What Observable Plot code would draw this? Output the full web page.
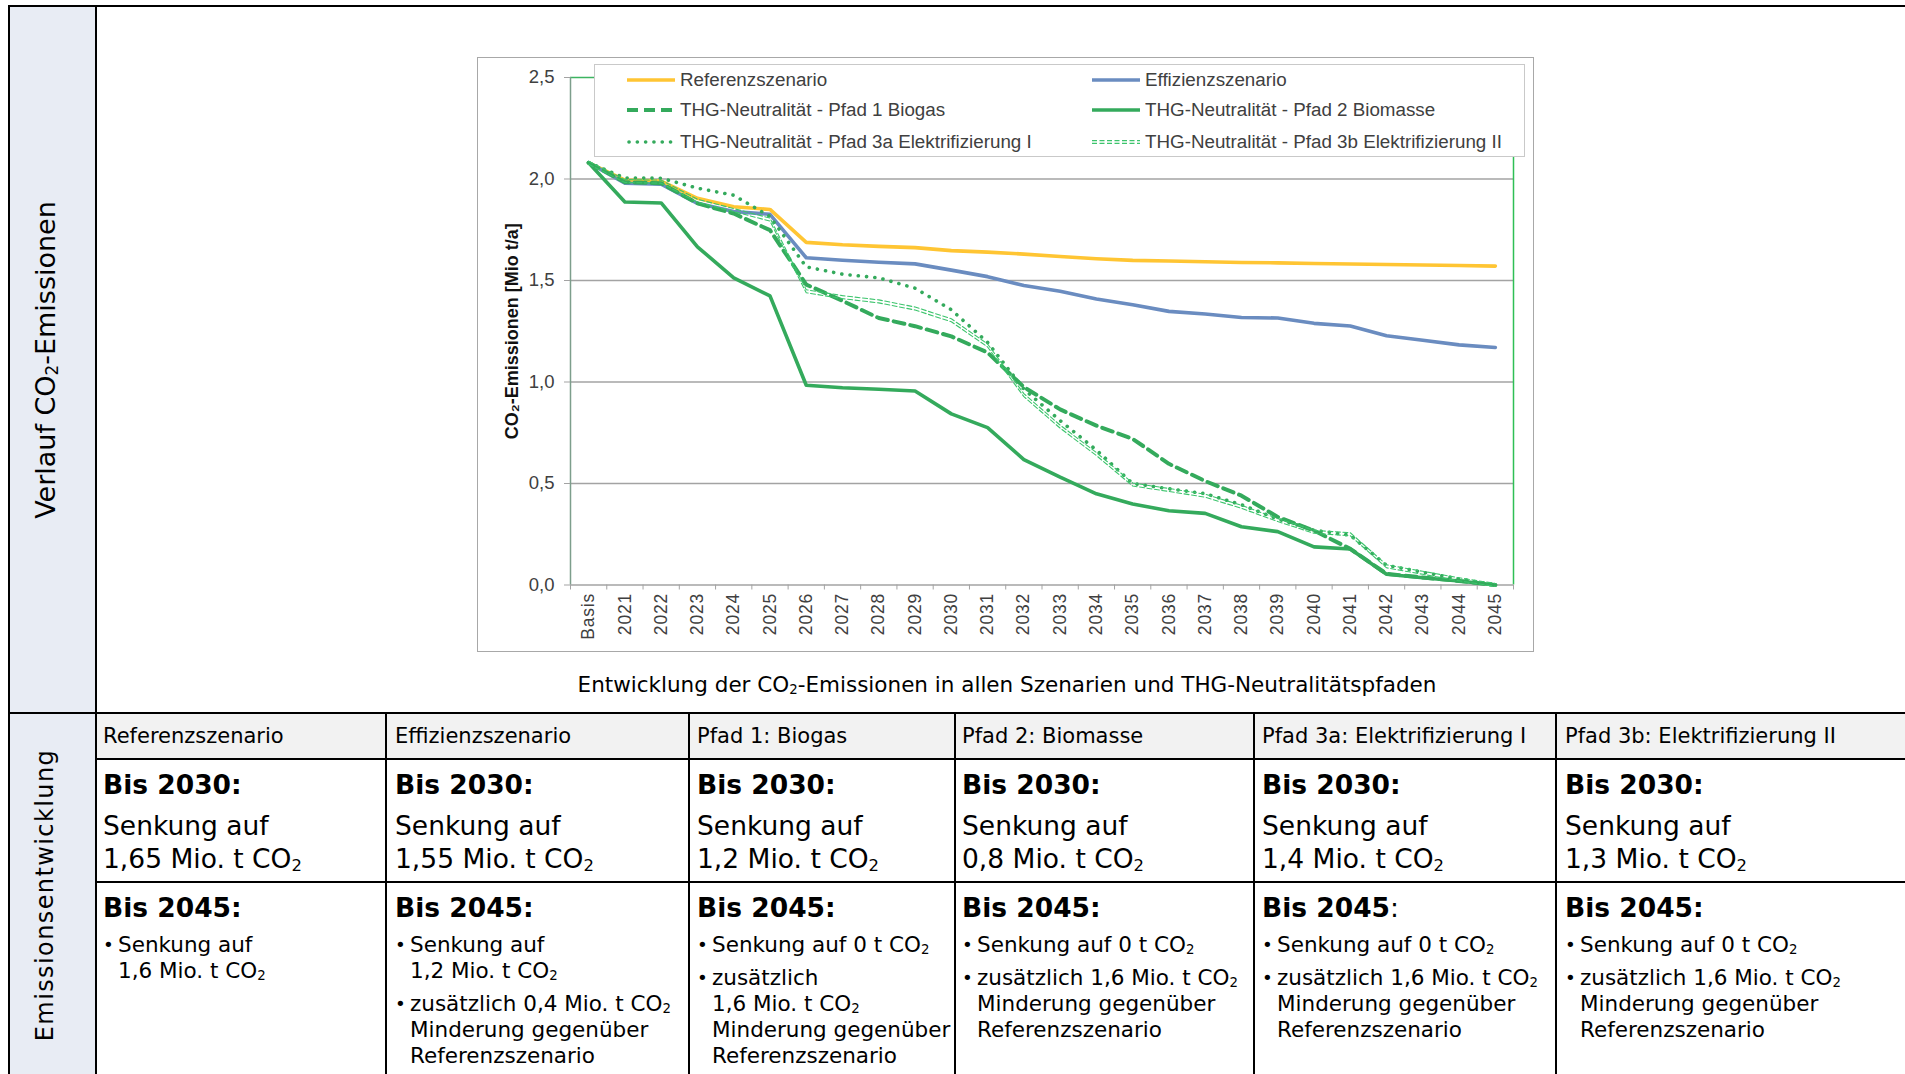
<!DOCTYPE html>
<html><head><meta charset="utf-8">
<script src="https://cdn.jsdelivr.net/npm/d3@7"></script>
<script src="https://cdn.jsdelivr.net/npm/@observablehq/plot@0.6"></script>
<style>
body{margin:0;background:#fff;width:1905px;height:1074px;overflow:hidden;position:relative;font-family:"DejaVu Sans",Verdana,sans-serif;color:#000}
.a{position:absolute;white-space:nowrap}
.bg{position:absolute}
.ln{position:absolute;background:#000}
sub{font-size:0.62em;vertical-align:-0.18em;line-height:0}
.rot{position:absolute;white-space:nowrap;transform:translate(-50%,-50%) rotate(-90deg);font-size:27px}
.hd{font-size:21px;line-height:30px}
.b30{font-size:26.5px;font-weight:bold;line-height:34px}
.big{font-size:26.5px;line-height:34px}
.bul{font-size:21.5px;line-height:26px}
.bul p{margin:0;padding-left:15px;position:relative}
.bul p+p{margin-top:7px}
.bul p::before{content:"•";position:absolute;left:0;font-size:0.85em}
#legend{position:absolute;left:594px;top:64px;width:931px;height:93px;box-sizing:border-box;border:1.5px solid #c9c9c9;background:#fff;font-family:"Liberation Sans",Arial,sans-serif;font-size:18.8px;color:#404040}
#legend .it{position:absolute;display:flex;align-items:center;white-space:nowrap}
#legend svg{margin-right:5px}
</style></head><body>
<script>
// ---------- data ----------
const categories = ["Basis","2021","2022","2023","2024","2025","2026","2027","2028","2029","2030","2031","2032","2033","2034","2035","2036","2037","2038","2039","2040","2041","2042","2043","2044","2045"];
const referenz      = [2.08,1.995,1.99,1.905,1.863,1.85,1.688,1.676,1.668,1.662,1.647,1.64,1.63,1.618,1.607,1.599,1.596,1.592,1.589,1.587,1.584,1.581,1.579,1.576,1.574,1.571];
const effizienz     = [2.08,1.979,1.974,1.88,1.84,1.826,1.612,1.60,1.59,1.582,1.551,1.519,1.475,1.447,1.409,1.381,1.348,1.335,1.318,1.315,1.289,1.276,1.228,1.206,1.183,1.17];
const pfad1Biogas   = [2.08,1.984,1.979,1.88,1.83,1.748,1.48,1.40,1.315,1.275,1.225,1.145,0.975,0.865,0.785,0.72,0.597,0.512,0.44,0.335,0.268,0.178,0.055,0.037,0.02,0.0];
const pfad2Biomasse = [2.08,1.887,1.882,1.666,1.513,1.424,0.984,0.972,0.964,0.956,0.843,0.775,0.618,0.531,0.449,0.399,0.366,0.353,0.287,0.263,0.188,0.177,0.053,0.036,0.02,0.0];
const pfad3a        = [2.08,2.005,2.004,1.955,1.92,1.815,1.567,1.531,1.513,1.462,1.356,1.195,0.965,0.81,0.665,0.5,0.474,0.45,0.395,0.325,0.27,0.245,0.097,0.063,0.03,0.0];
const pfad3b        = [2.08,1.99,1.987,1.893,1.847,1.80,1.447,1.418,1.397,1.362,1.304,1.18,0.935,0.78,0.645,0.495,0.468,0.44,0.385,0.32,0.262,0.25,0.092,0.06,0.028,0.0];
const yTicks = [0,0.5,1.0,1.5,2.0,2.5];
const seriesNames = ["Referenzszenario","Effizienzszenario","THG-Neutralität - Pfad 1 Biogas","THG-Neutralität - Pfad 2 Biomasse","THG-Neutralität - Pfad 3a Elektrifizierung I","THG-Neutralität - Pfad 3b Elektrifizierung II"];
const yLabel = "CO₂-Emissionen [Mio t/a]";
const caption = "Entwicklung der CO<sub>2</sub>-Emissionen in allen Szenarien und THG-Neutralitätspfaden";

const headers = ["Referenzszenario","Effizienzszenario","Pfad 1: Biogas","Pfad 2: Biomasse","Pfad 3a: Elektrifizierung I","Pfad 3b: Elektrifizierung II"];
const target2030 = ["1,65","1,55","1,2","0,8","1,4","1,3"];
const bullets2045 = [
  ["Senkung auf<br>1,6 Mio. t CO<sub>2</sub>"],
  ["Senkung auf<br>1,2 Mio. t CO<sub>2</sub>","zusätzlich 0,4 Mio. t CO<sub>2</sub><br>Minderung gegenüber<br>Referenzszenario"],
  ["Senkung auf 0 t CO<sub>2</sub>","zusätzlich<br>1,6 Mio. t CO<sub>2</sub><br>Minderung gegenüber<br>Referenzszenario"],
  ["Senkung auf 0 t CO<sub>2</sub>","zusätzlich 1,6 Mio. t CO<sub>2</sub><br>Minderung gegenüber<br>Referenzszenario"],
  ["Senkung auf 0 t CO<sub>2</sub>","zusätzlich 1,6 Mio. t CO<sub>2</sub><br>Minderung gegenüber<br>Referenzszenario"],
  ["Senkung auf 0 t CO<sub>2</sub>","zusätzlich 1,6 Mio. t CO<sub>2</sub><br>Minderung gegenüber<br>Referenzszenario"]
];
const bis2045Bold = ["Bis 2045:","Bis 2045:","Bis 2045:","Bis 2045:","Bis 2045</b><span style='font-weight:normal'>:</span><b>","Bis 2045:"];

// ---------- layout: table ----------
const colX = [97,387,690,956,1255,1557];
const textX = [103,395,697,962,1262,1565];
let html = "";
html += `<div class="bg" style="left:10px;top:7px;width:85px;height:1067px;background:#e8ecf4"></div>`;
html += `<div class="bg" style="left:97px;top:714px;width:1808px;height:44px;background:#f2f2f2"></div>`;
html += `<div class="ln" style="left:8px;top:5px;width:1897px;height:2px"></div>`;
html += `<div class="ln" style="left:8px;top:5px;width:2px;height:1069px"></div>`;
html += `<div class="ln" style="left:95px;top:5px;width:2px;height:1069px"></div>`;
html += `<div class="ln" style="left:8px;top:712px;width:1897px;height:2px"></div>`;
html += `<div class="ln" style="left:95px;top:758px;width:1810px;height:2px"></div>`;
html += `<div class="ln" style="left:95px;top:881px;width:1810px;height:2px"></div>`;
colX.slice(1).forEach(x=>{ html += `<div class="ln" style="left:${x-2}px;top:712px;width:1.6px;height:362px"></div>`; });
html += `<div class="rot" style="left:45px;top:360px">Verlauf CO<sub>2</sub>-Emissionen</div>`;
html += `<div class="rot" style="left:45px;top:895px;letter-spacing:1.4px;font-size:24px">Emissionsentwicklung</div>`;
headers.forEach((h,k)=>{
  const x = textX[k];
  html += `<div class="a hd" style="left:${x}px;top:${736-15}px">${h}</div>`;
  html += `<div class="a b30" style="left:${x}px;top:${785-17}px">Bis 2030:</div>`;
  html += `<div class="a big" style="left:${x}px;top:${826-17}px">Senkung auf</div>`;
  html += `<div class="a big" style="left:${x}px;top:${859-17}px">${target2030[k]} Mio. t CO<sub>2</sub></div>`;
  html += `<div class="a b30" style="left:${x}px;top:${908-17}px"><b>${bis2045Bold[k]}</b></div>`;
  html += `<div class="a bul" style="left:${x}px;top:${945-13}px">${bullets2045[k].map(t=>`<p>${t}</p>`).join("")}</div>`;
});
// chart box
html += `<div class="bg" style="left:477px;top:57px;width:1057px;height:595px;box-sizing:border-box;border:1.5px solid #a8a8a8"></div>`;
html += `<div id="chart" class="a" style="left:477px;top:57px"></div>`;
html += `<div class="a" style="left:1007px;top:684px;transform:translate(-50%,-50%);font-size:21.5px">${caption}</div>`;
document.body.insertAdjacentHTML("beforeend", html);

// ---------- chart ----------
const green = "#34aa5c";
const styles = [
  {stroke:"#FFC533", strokeWidth:3.6},
  {stroke:"#6A8CC0", strokeWidth:3.6},
  {stroke:green, strokeWidth:4, strokeDasharray:"11 6"},
  {stroke:green, strokeWidth:3.6},
  {stroke:green, strokeWidth:3.6, strokeDasharray:"0.1 8.2", strokeLinecap:"round"},
  {stroke:"#3cc46c", strokeWidth:1.1, strokeDasharray:"5 2.5", double:true}
];
const allValues = [referenz, effizienz, pfad1Biogas, pfad2Biomasse, pfad3a, pfad3b];
const data = allValues.map(vals => vals.map((v,i)=>({i, v})));
const lineMarks = [];
data.forEach((d,k)=>{
  const s = styles[k];
  const opts = {x:"i", y:"v", stroke:s.stroke, strokeWidth:s.strokeWidth, strokeLinejoin:"round"};
  if (s.strokeDasharray) opts.strokeDasharray = s.strokeDasharray;
  if (s.strokeLinecap) opts.strokeLinecap = s.strokeLinecap;
  if (s.double) {
    lineMarks.push(Plot.line(d, {...opts, dy:-1.5}));
    lineMarks.push(Plot.line(d, {...opts, dy:1.5}));
  } else lineMarks.push(Plot.line(d, opts));
});

const chart = Plot.plot({
  width:1057, height:595,
  marginLeft:93, marginRight:21, marginTop:20, marginBottom:67.5,
  style:{fontFamily:"'Liberation Sans', Arial, sans-serif", fontSize:"18px", color:"#404040", background:"transparent"},
  x:{type:"linear", domain:[-0.5, categories.length-0.5]},
  y:{domain:[0,2.5]},
  marks:[
    Plot.ruleY([0.5,1.0,1.5,2.0], {stroke:"#a3a3a3", strokeWidth:1.5}),
    Plot.ruleY([2.5], {stroke:"#3cb460", strokeWidth:1.5}),
    Plot.ruleX([categories.length-0.5], {stroke:"#2fbf55", strokeWidth:1.5}),
    Plot.ruleY([0], {stroke:"#a3a3a3", strokeWidth:1.5}),
    Plot.ruleX([-0.5], {stroke:"#7d9e8c", strokeWidth:1.5}),
    Plot.axisY({ticks:yTicks, tickSize:6, tickPadding:10, tickFormat:d=>d.toFixed(1).replace(".",","), label:null, stroke:"#a3a3a3", fill:"#404040", fontSize:18.5}),
    Plot.axisX({ticks:d3.range(-0.5, categories.length, 1), tickSize:5, tickFormat:()=>"", label:null, stroke:"#a3a3a3"}),
    Plot.axisX({ticks:d3.range(0, categories.length), tickSize:0, tickPadding:8, tickRotate:-90, tickFormat:i=>categories[i], label:null, fill:"#404040", fontSize:17.5}),
    Plot.text([yLabel], {frameAnchor:"left", rotate:-90, dx:-58, textAnchor:"middle", fontWeight:"bold", fontSize:18, fill:"#111"}),
    ...lineMarks
  ]
});
chart.querySelectorAll("g[aria-label='x-axis tick label'] text").forEach(t=>t.setAttribute("letter-spacing","0.8"));
document.getElementById("chart").appendChild(chart);

// ---------- legend ----------
const legendPos = [[32,15],[497,15],[32,45],[497,45],[32,77],[497,77]];
let lg = `<div id="legend">`;
seriesNames.forEach((n,k)=>{
  const s = styles[k];
  const [lx,ly] = legendPos[k];
  let sw;
  if (s.double) {
    sw = `<line x1="0" y1="3.6" x2="48" y2="3.6" stroke="${s.stroke}" stroke-width="1.3" stroke-dasharray="5 2.5"/><line x1="0" y1="6.4" x2="48" y2="6.4" stroke="${s.stroke}" stroke-width="1.3" stroke-dasharray="5 2.5"/>`;
  } else {
    sw = `<line x1="${s.strokeLinecap?2:0}" y1="5" x2="48" y2="5" stroke="${s.stroke}" stroke-width="${s.strokeWidth}" ${s.strokeDasharray?`stroke-dasharray="${s.strokeDasharray}"`:""} ${s.strokeLinecap?`stroke-linecap="round"`:""}/>`;
  }
  lg += `<div class="it" style="left:${lx}px;top:${ly-11}px;height:22px"><svg width="48" height="10">${sw}</svg>${n}</div>`;
});
lg += `</div>`;
document.body.insertAdjacentHTML("beforeend", lg);
</script>
</body></html>
